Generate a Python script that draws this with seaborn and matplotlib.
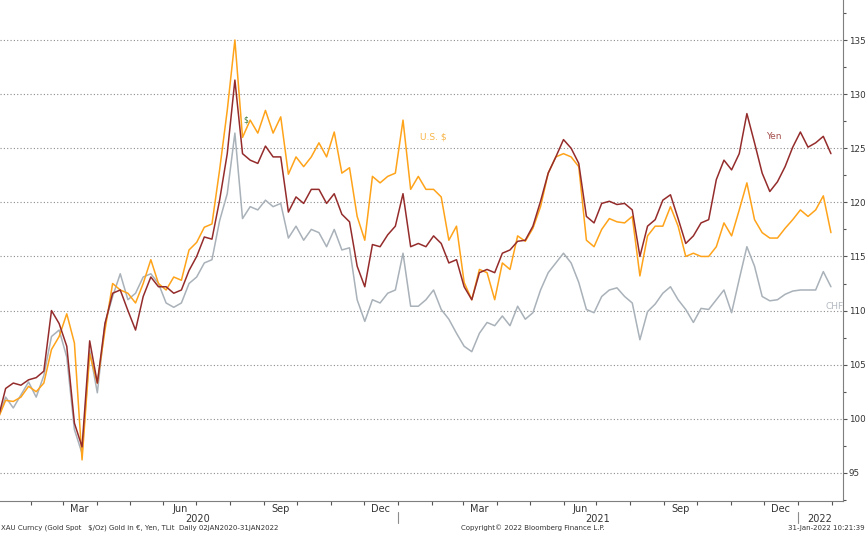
import pandas as pd
import matplotlib.pyplot as plt
import matplotlib.dates as mdates
import matplotlib.ticker as mticker
import seaborn as sns

# Datas (aprox. semanais) de 02/01/2020 a 31/01/2022
dates = pd.date_range('2020-01-02', '2022-01-31', periods=110)

# Ouro normalizado (base 100) em cada moeda
yen = [100.0, 102.8, 103.3, 103.1, 103.6, 103.8, 104.4, 110.0, 108.8, 106.7,
       99.6, 97.4, 107.2, 103.3, 108.8, 111.6, 111.9, 110.0, 108.2, 111.3,
       113.1, 112.2, 112.2, 111.6, 111.9, 113.7, 115.0, 116.8, 116.6, 120.2,
       124.5, 131.3, 124.5, 123.9, 123.6, 125.2, 124.2, 124.2, 119.1, 120.5,
       119.9, 121.2, 121.2, 119.9, 120.8, 118.9, 118.2, 114.1, 112.2, 116.1,
       115.9, 117.0, 117.8, 120.8, 115.9, 116.2, 115.9, 116.9, 116.2, 114.4,
       114.7, 112.2, 111.0, 113.5, 113.8, 113.5, 115.3, 115.6, 116.4, 116.5,
       117.8, 120.1, 122.7, 124.2, 125.8, 125.0, 123.6, 118.7, 118.1, 119.9,
       120.1, 119.8, 119.9, 119.3, 115.0, 117.8, 118.4, 120.2, 120.7, 118.5,
       116.2, 116.9, 118.1, 118.4, 122.1, 123.9, 123.0, 124.5, 128.2, 125.5,
       122.7, 121.0, 121.9, 123.3, 125.1, 126.5, 125.1, 125.5, 126.1, 124.5]

usd = [100.0, 101.7, 101.6, 102.0, 103.0, 102.5, 103.3, 106.4, 107.6, 109.7,
       107.0, 96.2, 106.0, 103.3, 108.2, 112.5, 111.9, 111.6, 110.7, 112.5,
       114.7, 112.5, 111.9, 113.1, 112.8, 115.6, 116.3, 117.7, 118.0, 123.0,
       128.5, 135.0, 126.0, 127.6, 126.4, 128.5, 126.4, 127.9, 122.6, 124.2,
       123.3, 124.2, 125.5, 124.2, 126.5, 122.7, 123.2, 118.7, 116.5, 122.4,
       121.8, 122.4, 122.7, 127.6, 121.2, 122.4, 121.2, 121.2, 120.5, 116.5,
       117.8, 112.6, 111.0, 113.8, 113.5, 111.0, 114.4, 113.8, 116.9, 116.4,
       117.6, 119.6, 122.7, 124.2, 124.5, 124.2, 123.3, 116.5, 115.9, 117.5,
       118.5, 118.2, 118.1, 118.7, 113.2, 116.9, 117.8, 117.8, 119.6, 117.8,
       115.0, 115.3, 115.0, 115.0, 115.9, 118.1, 116.9, 119.3, 121.8, 118.4,
       117.2, 116.7, 116.7, 117.6, 118.4, 119.3, 118.7, 119.3, 120.6, 117.2]

chf = [100.0, 102.0, 101.0, 102.2, 103.4, 102.0, 104.0, 107.6, 108.2, 105.7,
       99.0, 96.8, 106.3, 102.4, 108.8, 111.3, 113.4, 111.0, 111.6, 113.1,
       113.4, 112.5, 110.7, 110.3, 110.7, 112.5, 113.1, 114.4, 114.7, 118.3,
       120.8, 126.4, 118.5, 119.6, 119.3, 120.2, 119.6, 119.9, 116.7, 117.8,
       116.5, 117.5, 117.2, 115.9, 117.5, 115.6, 115.8, 111.0, 109.0, 111.0,
       110.7, 111.6, 111.9, 115.3, 110.4, 110.4, 111.0, 111.9, 110.1, 109.2,
       107.9, 106.7, 106.2, 107.9, 108.9, 108.6, 109.5, 108.6, 110.4, 109.2,
       109.8, 111.9, 113.5, 114.4, 115.3, 114.4, 112.6, 110.1, 109.8, 111.3,
       111.9, 112.1, 111.3, 110.7, 107.3, 109.9, 110.6, 111.6, 112.2, 111.0,
       110.1, 108.9, 110.2, 110.1, 111.0, 111.9, 109.8, 112.9, 115.9, 114.1,
       111.3, 110.9, 111.0, 111.5, 111.8, 111.9, 111.9, 111.9, 113.6, 112.2]

cores = {'CHF': '#a9b1b9', 'U.S. $': '#ffa31a', 'Yen': '#952c2c'}

df = pd.DataFrame({'date': dates, 'CHF': chf, 'U.S. $': usd, 'Yen': yen})
long_df = df.melt(id_vars='date', var_name='serie', value_name='valor')

sns.set_theme(style='white')
plt.rcParams['font.family'] = ['DejaVu Sans']

fig = plt.figure(figsize=(8.66, 5.33), dpi=100)
ax = fig.add_axes([0, 32 / 533, 843 / 866, 501 / 533])

sns.lineplot(data=long_df, x='date', y='valor', hue='serie', palette=cores,
             linewidth=1.1, legend=False, ax=ax)

# Limites
ax.set_xlim(pd.Timestamp('2020-01-03 20:00'), pd.Timestamp('2022-02-11'))
ax.set_ylim(92.4, 138.7)
ax.set_xlabel('')
ax.set_ylabel('')

# Eixo Y a direita
ax.yaxis.tick_right()
ax.yaxis.set_major_locator(mticker.MultipleLocator(5))
ax.yaxis.set_minor_locator(mticker.MultipleLocator(2.5))
ax.yaxis.set_major_formatter(mticker.FormatStrFormatter('%d'))
ax.tick_params(axis='y', which='major', direction='out', length=3, width=0.8,
               color='#555555', labelsize=6.3, labelcolor='#333333', pad=1,
               right=True, left=False)
ax.tick_params(axis='y', which='minor', direction='out', length=2, width=0.8,
               color='#555555', right=True, left=False)
ax.yaxis.grid(True, which='major', linestyle=(0, (1, 2)), color='#8c8c8c', linewidth=0.8)
ax.xaxis.grid(False)

# Eixo X: marcas no inicio de cada mes, rotulos no meio do mes
ax.xaxis.set_minor_locator(mdates.MonthLocator())
meses = ['2020-03-16', '2020-06-16', '2020-09-16', '2020-12-16',
         '2021-03-16', '2021-06-16', '2021-09-16', '2021-12-16']
ax.set_xticks([pd.Timestamp(m) for m in meses], ['Mar', 'Jun', 'Sep', 'Dec'] * 2)
ax.tick_params(axis='x', which='major', length=0, labelsize=7, labelcolor='#333333', pad=2)
ax.tick_params(axis='x', which='minor', direction='out', length=3, width=0.8,
               color='#555555', bottom=True)

for lado in ['left', 'top']:
    ax.spines[lado].set_visible(False)
for lado in ['right', 'bottom']:
    ax.spines[lado].set_color('#7f7f7f')
    ax.spines[lado].set_linewidth(0.8)

# Anos e separadores
trans = ax.get_xaxis_transform()
for ano, pos in [('2020', '2020-07-02'), ('2021', '2021-07-02'), ('2022', '2022-01-21')]:
    ax.text(mdates.date2num(pd.Timestamp(pos)), -0.036, ano, transform=trans,
            ha='center', va='center', fontsize=7, color='#333333')
for sep in ['2021-01-01', '2022-01-01']:
    x = mdates.date2num(pd.Timestamp(sep))
    ax.plot([x, x], [-0.021, -0.044], transform=trans, color='#8c8c8c',
            linewidth=0.8, clip_on=False)

# Rotulos das series
ax.text(mdates.date2num(pd.Timestamp('2021-02-02')), 126.0, 'U.S. $', color='#f7b548',
        fontsize=6.5, ha='center', va='center')
ax.text(mdates.date2num(pd.Timestamp('2021-12-10')), 126.1, 'Yen', color='#a5504d',
        fontsize=6.5, ha='center', va='center')
ax.text(mdates.date2num(pd.Timestamp('2022-01-26')), 110.4, 'CHF', color='#b3bac1',
        fontsize=6.5, ha='left', va='center')
ax.text(mdates.date2num(pd.Timestamp('2020-08-15')), 127.6, '$', color='#3c7a3c',
        fontsize=5.5, ha='center', va='center')

# Rodape
fig.text(0.001, 5 / 533, 'XAU Curncy (Gold Spot   $/Oz) Gold in €, Yen, TLit  Daily 02JAN2020-31JAN2022',
         fontsize=5, color='#333333', va='center', ha='left')
fig.text(461 / 866, 5 / 533, 'Copyright© 2022 Bloomberg Finance L.P.',
         fontsize=5, color='#333333', va='center', ha='left')
fig.text(865 / 866, 5 / 533, '31-Jan-2022 10:21:39',
         fontsize=5, color='#333333', va='center', ha='right')

fig.savefig('out.png', dpi=100)
